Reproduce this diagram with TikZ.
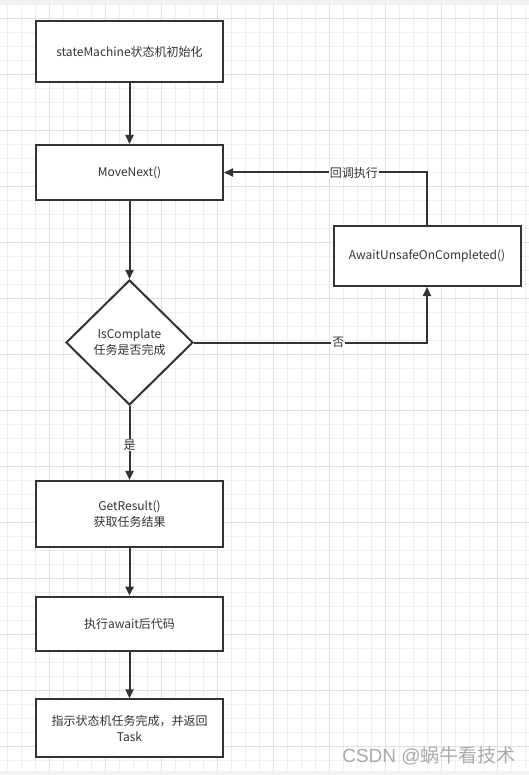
\documentclass[tikz,border=0pt]{standalone}
\usepackage{fontspec}
\setmainfont{Noto Sans CJK SC}
\newfontfamily\wmlatin{Liberation Sans}
\usetikzlibrary{arrows.meta,shapes.geometric}
\definecolor{ink}{HTML}{333333}
\definecolor{minorgrid}{HTML}{EFEFEF}
\definecolor{majorgrid}{HTML}{E0E0E0}
\definecolor{band}{HTML}{F2F2F2}
\definecolor{wm}{HTML}{ABABAB}
\tikzset{
  flowbox/.style={draw=ink, line width=2pt, fill=white, minimum width=187pt, inner sep=0pt, align=center, text=ink, font=\fontsize{12}{16}\selectfont},
  decision/.style={diamond, draw=ink, line width=2pt, fill=white, minimum width=127pt, minimum height=125pt, inner sep=0pt, aspect=1.016, align=center, text=ink, font=\fontsize{12}{16}\selectfont},
  flow/.style={draw=ink, line width=2pt, -{Triangle[length=9pt,width=8pt]}},
  elabel/.style={fill=white, inner sep=1pt, text=ink, font=\fontsize{12}{14}\selectfont}
}
\begin{document}
\begin{tikzpicture}[x=1pt,y=-1pt]
\useasboundingbox (0,0) rectangle (529,775);
\fill[white] (0,0) rectangle (529,775);
% grid
\foreach \i in {0,...,55} {
  \pgfmathsetmacro{\yy}{4.3+14*\i}
  \ifdim\yy pt<771pt
    \draw[minorgrid, line width=1pt] (0,\yy) -- (529,\yy);
  \fi
}
\foreach \i in {0,...,38} {
  \pgfmathsetmacro{\xx}{7.3+14*\i}
  \draw[minorgrid, line width=1pt] (\xx,4.5) -- (\xx,771);
}
\foreach \i in {0,...,13} {
  \pgfmathsetmacro{\yy}{18.3+56*\i}
  \ifdim\yy pt<771pt
    \draw[majorgrid, line width=1pt] (0,\yy) -- (529,\yy);
  \fi
}
\foreach \i in {0,...,8} {
  \pgfmathsetmacro{\xx}{49.3+56*\i}
  \draw[majorgrid, line width=1pt] (\xx,4.5) -- (\xx,771);
}
\fill[band] (0,0) rectangle (529,4.5);
\fill[band] (0,771) rectangle (529,775);

% nodes
\node[flowbox, minimum height=61pt] (init) at (129.5,51.5) {stateMachine状态机初始化};
\node[flowbox, minimum height=55pt] (next) at (129.5,172.5) {MoveNext()};
\node[flowbox, minimum height=60pt] (await) at (427,256) {AwaitUnsafeOnCompleted()};
\node[decision] (check) at (129.5,342.5) {IsComplate\\任务是否完成};
\node[flowbox, minimum height=65.7pt] (result) at (129.5,513.8) {GetResult()\\获取任务结果};
\node[flowbox, minimum height=54.3pt] (after) at (129.5,623.8) {执行await后代码};
\node[flowbox, minimum height=57.4pt] (done) at (129.5,728) {指示状态机任务完成，并返回\\Task};

% connectors
\draw[flow] (init) -- (next);
\draw[flow] (next) -- (check);
\draw[flow] (await.north) |- node[elabel, pos=0.68] {回调执行} (next.east);
\draw[flow] (check.east) -| node[elabel, pos=0.31] {否} (await.south);
\draw[flow] (check) -- node[elabel, pos=0.53] {是} (result);
\draw[flow] (result) -- (after);
\draw[flow] (after) -- (done);

% watermark
\node[text=wm, font=\fontsize{19}{21}\selectfont, inner sep=0pt] (mark) at (429,756) {{\wmlatin CSDN @}蜗牛看技术};
\end{tikzpicture}
\end{document}
